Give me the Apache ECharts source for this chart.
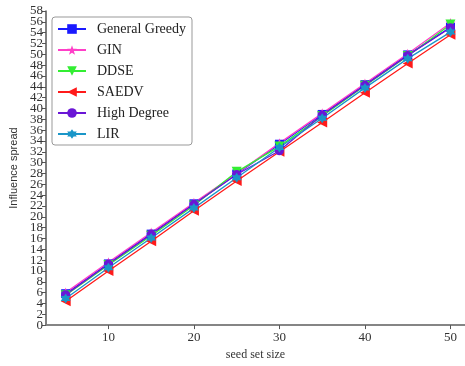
<!DOCTYPE html>
<html>
<head>
<meta charset="utf-8">
<script src="https://cdn.jsdelivr.net/npm/echarts@6/dist/echarts.min.js"></script>
<style>
  html, body { margin: 0; padding: 0; background: #fff; }
  #chart { width: 465px; height: 366px; }
</style>
</head>
<body>
<div id="chart"></div>
<script>
// seed set sizes
const seedSizes = [5, 10, 15, 20, 25, 30, 35, 40, 45, 50]
const xTickValues = [10, 20, 30, 40, 50]
// y tick labels, split into two sets so neighbouring labels are not auto-hidden
const yLabelsA = [0, 4, 8, 12, 16, 20, 24, 28, 32, 36, 40, 44, 48, 52, 56]
const yLabelsB = [2, 6, 10, 14, 18, 22, 26, 30, 34, 38, 42, 46, 50, 54, 58]

// influence spread per method
const generalGreedy = [5.8, 11.3, 16.8, 22.4, 27.9, 33.4, 38.9, 44.4, 49.9, 55.0]
const gin = [6.0, 11.6, 17.1, 22.6, 28.0, 33.6, 39.1, 44.6, 50.1, 55.8]
const ddse = [5.5, 11.1, 16.5, 22.1, 28.3, 33.0, 38.6, 44.2, 49.7, 55.5]
const saedv = [4.4, 10.0, 15.5, 21.1, 26.6, 32.0, 37.4, 42.9, 48.3, 53.6]
const highDegree = [5.6, 11.3, 16.8, 22.3, 27.8, 32.2, 38.8, 44.3, 49.8, 54.9]
const lir = [4.9, 10.6, 16.1, 21.6, 27.2, 32.8, 38.2, 43.8, 49.2, 54.1]

const serif = '"Liberation Serif", "Times New Roman", serif'

// 6-point star-ish blob for LIR
const lirSymbol = 'path://M0,-10 L3,-5 L9,-5 L6,0 L9,5 L3,5 L0,10 L-3,5 L-9,5 L-6,0 L-9,-5 L-3,-5 Z'

const makeSeries = (name, data, color, symbol, size) => ({
  name: name,
  type: 'line',
  data: seedSizes.map((s, i) => [s, data[i]]),
  symbol: symbol,
  symbolSize: size,
  lineStyle: { color: color, width: 1.3 },
  itemStyle: { color: color },
  animation: false
})

const yLabelStyle = { fontFamily: serif, fontSize: 13, color: '#333', margin: 3 }

const chart = echarts.init(document.getElementById('chart'))

chart.setOption({
  animation: false,
  grid: {
    left: 44,
    right: 0,
    top: 11,
    bottom: 40
  },
  legend: {
    orient: 'vertical',
    left: 52,
    top: 17,
    padding: [5, 6, 4, 5],
    borderColor: '#999',
    borderWidth: 1,
    borderRadius: 3,
    backgroundColor: '#fff',
    itemWidth: 28,
    itemHeight: 12,
    itemGap: 7,
    textStyle: { fontFamily: serif, fontSize: 14, color: '#222', padding: [0, 0, 0, 6] }
  },
  xAxis: [
    {
      type: 'value',
      min: 2.7,
      max: 51.7,
      interval: 10,
      name: 'seed set size',
      nameLocation: 'middle',
      nameGap: 22,
      nameTextStyle: { fontFamily: serif, fontSize: 12, color: '#333' },
      axisLine: { lineStyle: { color: '#555', width: 1.5 } },
      axisTick: { show: true, length: 4, lineStyle: { color: '#555' }, customValues: xTickValues },
      axisLabel: {
        fontFamily: serif, fontSize: 13, color: '#333', margin: 6,
        customValues: xTickValues
      },
      splitLine: { show: false }
    },
    {
      // top frame line only
      type: 'value',
      position: 'top',
      min: 2.7,
      max: 51.7,
      axisLine: { show: true, lineStyle: { color: '#888', width: 1.5 } },
      axisTick: { show: false },
      axisLabel: { show: false },
      splitLine: { show: false }
    }
  ],
  yAxis: [
    {
      type: 'value',
      min: 0,
      max: 58,
      interval: 2,
      name: 'Influence spread',
      nameLocation: 'middle',
      nameGap: 27,
      nameTextStyle: { fontFamily: '"Liberation Sans", Arial, sans-serif', fontSize: 11, color: '#333' },
      axisLine: { show: true, lineStyle: { color: '#555', width: 1.5 } },
      axisTick: { show: true, length: 4, lineStyle: { color: '#555' } },
      axisLabel: Object.assign({ customValues: yLabelsA }, yLabelStyle),
      splitLine: { show: false }
    },
    {
      type: 'value',
      position: 'left',
      offset: 0,
      min: 0,
      max: 58,
      interval: 2,
      axisLine: { show: false },
      axisTick: { show: false },
      axisLabel: Object.assign({ customValues: yLabelsB }, yLabelStyle),
      splitLine: { show: false }
    }
  ],
  series: [
    makeSeries('General Greedy', generalGreedy, '#1a1aff', 'rect', 9),
    makeSeries('GIN', gin, '#ff3fc8', 'path://M0,-10 L2.4,-3.2 L9.5,-3.1 L3.8,1.2 L5.9,8.1 L0,4 L-5.9,8.1 L-3.8,1.2 L-9.5,-3.1 L-2.4,-3.2 Z', 10),
    makeSeries('DDSE', ddse, '#33ee33', 'path://M-10,-8 L10,-8 L0,9 Z', 10),
    makeSeries('SAEDV', saedv, '#ff1a1a', 'path://M-9,0 L8,-10 L8,10 Z', 10),
    makeSeries('High Degree', highDegree, '#6a16d6', 'circle', 9),
    makeSeries('LIR', lir, '#1a96c8', lirSymbol, 10)
  ]
})
</script>
</body>
</html>
